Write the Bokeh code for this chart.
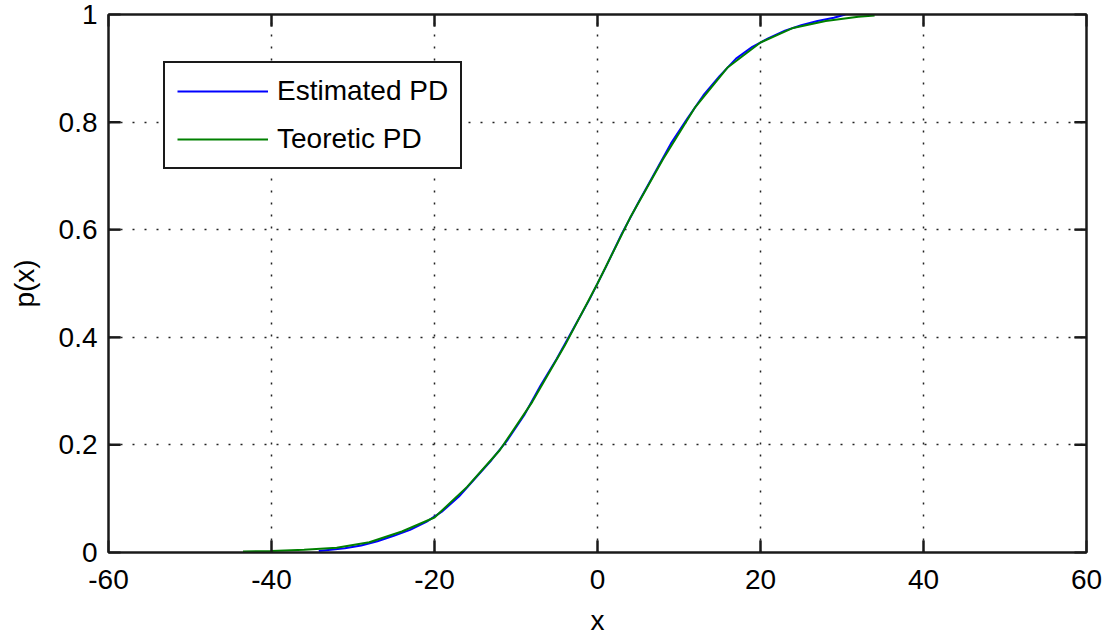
from bokeh.plotting import figure
from bokeh.models import LinearAxis, Range1d, FixedTicker, Legend, LegendItem
from bokeh.embed import file_html
from bokeh.resources import INLINE

# Theoretic PD
x_theo = [-43.5, -40, -36, -32, -28, -24, -20, -16, -12, -8, -4, 0, 4, 8, 12, 16, 20, 24, 28, 32, 34]
p_theo = [0.002, 0.003, 0.005, 0.009, 0.019, 0.039, 0.065, 0.122, 0.19, 0.28, 0.385, 0.5,
          0.622, 0.73, 0.828, 0.902, 0.948, 0.975, 0.988, 0.996, 0.998]

# Estimated PD
x_est = [-34.2, -31, -29, -27, -25, -23, -21, -19, -17, -15, -13, -11, -9, -7, -5, -3, -1,
         1, 3, 5, 7, 9, 11, 13, 15, 17, 19, 21, 23, 25, 27, 29, 30.4]
p_est = [0.003, 0.008, 0.013, 0.021, 0.031, 0.042, 0.057, 0.077, 0.104, 0.138, 0.172, 0.21,
         0.255, 0.31, 0.36, 0.415, 0.47, 0.53, 0.593, 0.65, 0.705, 0.76, 0.806, 0.85, 0.886,
         0.918, 0.94, 0.956, 0.97, 0.98, 0.988, 0.994, 1.0]

x_ticks = [-60, -40, -20, 0, 20, 40, 60]
x_tick_labels = ["-60", "-40", "-20", "0", "20", "40", "60"]
y_ticks = [0, 0.2, 0.4, 0.6, 0.8, 1]
y_tick_labels = ["0", "0.2", "0.4", "0.6", "0.8", "1"]

X_MIN, X_MAX = -60, 60
Y_MIN, Y_MAX = 0, 1

FONT = "Liberation Sans"
FS = "28px"
DARK = "#1a1a1a"

W, H = 1104, 638
BL, BR, BT, BB = 108, 18, 14, 86

p = figure(width=W, height=H, output_backend="svg", toolbar_location=None,
           x_range=Range1d(X_MIN, X_MAX), y_range=Range1d(Y_MIN, Y_MAX),
           min_border_left=BL, min_border_right=BR, min_border_top=BT, min_border_bottom=BB,
           background_fill_color="white", border_fill_color="white")

p.outline_line_color = DARK
p.outline_line_width = 2

xt = FixedTicker(ticks=x_ticks)
yt = FixedTicker(ticks=y_ticks)


def style_axis(ax, show_labels=True):
    ax.axis_line_color = DARK
    ax.axis_line_width = 2
    ax.major_tick_in = 12
    ax.major_tick_out = 0
    ax.major_tick_line_color = DARK
    ax.major_tick_line_width = 2
    ax.minor_tick_line_color = None
    ax.major_label_text_font = FONT
    ax.major_label_text_color = "black"
    if show_labels:
        ax.major_label_text_font_size = FS
    else:
        ax.major_label_text_font_size = "0px"
        ax.major_label_standoff = 0


p.xaxis.ticker = xt
p.yaxis.ticker = yt
p.xaxis.major_label_overrides = {v: s for v, s in zip(x_ticks, x_tick_labels)}
p.yaxis.major_label_overrides = {v: s for v, s in zip(y_ticks, y_tick_labels)}
for ax in p.xaxis + p.yaxis:
    style_axis(ax)
p.xaxis.major_label_standoff = 17
p.yaxis.major_label_standoff = 11
p.xaxis.axis_label = "x"
p.yaxis.axis_label = "p(x)"
for ax in p.xaxis + p.yaxis:
    ax.axis_label_text_font = FONT
    ax.axis_label_text_font_size = FS
    ax.axis_label_text_font_style = "normal"
    ax.axis_label_text_color = "black"
p.xaxis.axis_label_standoff = 13
p.yaxis.axis_label_standoff = 16

top = LinearAxis(ticker=FixedTicker(ticks=x_ticks))
style_axis(top, show_labels=False)
top.major_label_overrides = {v: "" for v in x_ticks}
right = LinearAxis(ticker=FixedTicker(ticks=y_ticks))
style_axis(right, show_labels=False)
right.major_label_overrides = {v: "" for v in y_ticks}
p.add_layout(top, "above")
p.add_layout(right, "right")

p.xgrid.ticker = xt
p.ygrid.ticker = yt
for g in (p.xgrid, p.ygrid):
    g.grid_line_color = "#222222"
    g.grid_line_width = 1.5
    g.grid_line_dash = "2 10"

r1 = p.line(x_est, p_est, line_color="#0000ff", line_width=2)
r2 = p.line(x_theo, p_theo, line_color="#008000", line_width=2)

# inward tick marks on all four sides (12 px long)
frame_w = W - BL - BR
frame_h = H - BT - BB
tx = 12 * (X_MAX - X_MIN) / frame_w
ty = 12 * (Y_MAX - Y_MIN) / frame_h
xs = x_ticks[1:-1]
ys = y_ticks[1:-1]
p.segment(x0=xs, y0=[Y_MIN] * len(xs), x1=xs, y1=[Y_MIN + ty] * len(xs),
          line_color=DARK, line_width=2)
p.segment(x0=xs, y0=[Y_MAX] * len(xs), x1=xs, y1=[Y_MAX - ty] * len(xs),
          line_color=DARK, line_width=2)
p.segment(x0=[X_MIN] * len(ys), y0=ys, x1=[X_MIN + tx] * len(ys), y1=ys,
          line_color=DARK, line_width=2)
p.segment(x0=[X_MAX] * len(ys), y0=ys, x1=[X_MAX - tx] * len(ys), y1=ys,
          line_color=DARK, line_width=2)

legend = Legend(items=[LegendItem(label="Estimated PD", renderers=[r1]),
                       LegendItem(label="Teoretic PD", renderers=[r2])],
                location=(55, 383), border_line_color=DARK, border_line_width=2,
                border_line_alpha=1.0,
                padding=12, spacing=16, glyph_width=91, glyph_height=26, label_height=26,
                label_standoff=9, label_text_font=FONT, label_text_font_size=FS,
                label_text_color="black", background_fill_color="white",
                background_fill_alpha=1, margin=0)
p.add_layout(legend)

open("out.html", "w").write(file_html(p, INLINE))
